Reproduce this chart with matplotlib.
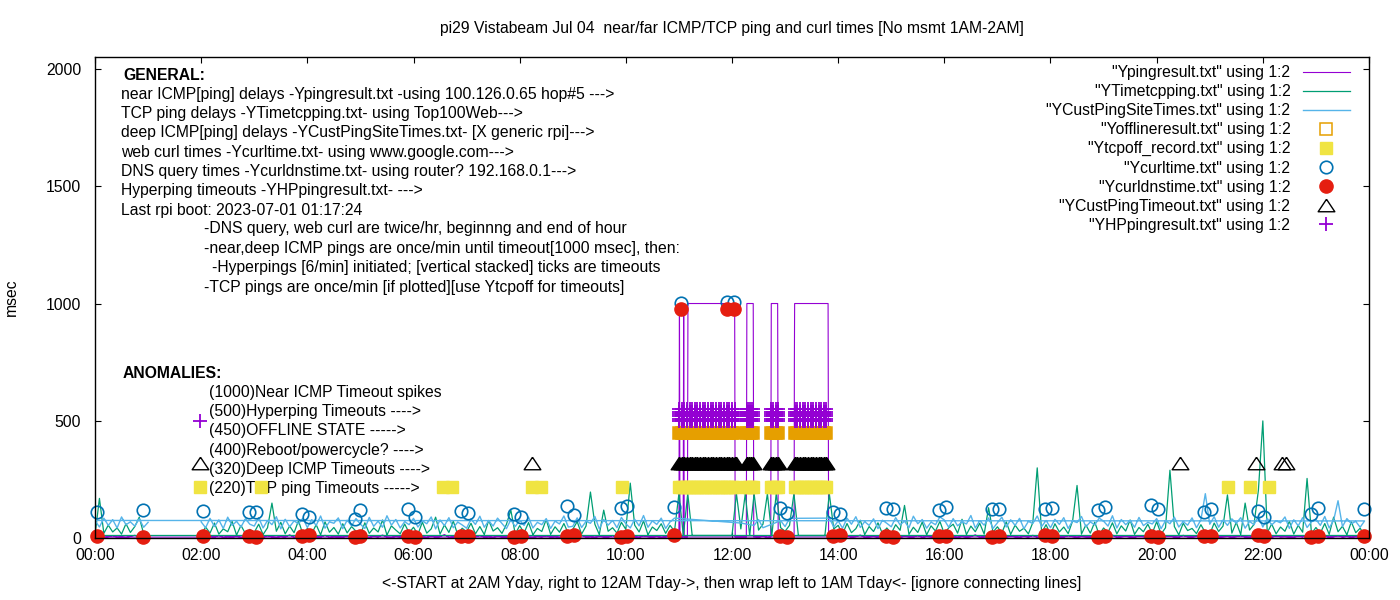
import matplotlib
matplotlib.use("Agg")
import matplotlib.pyplot as plt

plt.rcParams['font.family'] = ['Liberation Sans', 'DejaVu Sans']
plt.rcParams['font.size'] = 11.3

# ---------------------------------------------------------------- data
# logging runs 2AM yesterday -> midnight, then wraps to 0..1AM today.
# per-minute series at 5 minute steps, one row per hour
hour_order = list(range(2, 24)) + [0]

# near ICMP ping (msec), None = covered by the timeout spikes below
ping_rows = [
    [6, 4, 8, 5, 12, 4, 7, 5, 9, 4, 6, 10],
    [5, 7, 4, 11, 6, 4, 8, 5, 15, 4, 7, 5],
    [4, 9, 6, 5, 13, 4, 7, 6, 5, 10, 4, 8],
    [7, 5, 4, 9, 6, 14, 5, 4, 8, 6, 5, 11],
    [5, 8, 6, 4, 10, 5, 7, 16, 4, 6, 9, 5],
    [8, 4, 6, 12, 5, 7, 4, 9, 6, 5, 13, 4],
    [6, 10, 5, 4, 8, 6, 11, 5, 7, 4, 6, 9],
    [4, 6, 13, 5, 7, 4, 9, 6, 5, 12, 4, 7],
    [9, 5, 6, 4, 11, 7, 5, 8, 4, 6, 10, 5],
    [None] * 12,
    [None, None, 6, 5, None, 7, 5, 9, 4, None, None, 6],
    [5, 8, 4, None, None, None, None, None, None, None, 7, 5],
    [6, 4, 10, 5, 7, 14, 4, 6, 8, 5, 11, 4],
    [7, 5, 4, 9, 6, 5, 12, 4, 8, 6, 4, 10],
    [5, 11, 6, 4, 8, 5, 7, 15, 4, 6, 9, 5],
    [4, 7, 5, 10, 6, 4, 9, 5, 13, 4, 6, 8],
    [9, 4, 6, 5, 12, 7, 4, 8, 6, 5, 10, 4],
    [5, 8, 14, 4, 6, 9, 5, 4, 11, 7, 5, 6],
    [6, 4, 7, 10, 5, 4, 13, 6, 5, 8, 4, 9],
    [4, 10, 5, 6, 8, 4, 7, 12, 5, 4, 9, 6],
    [8, 5, 4, 11, 6, 7, 5, 4, 10, 6, 14, 5],
    [5, 7, 9, 4, 6, 12, 5, 8, 4, 7, 5, 6],
    [5, 9, 4, 7, 11, 5, 6, 4, 8, 13, 5, 6],
]
ping_1am = 5
# near ICMP timeout spikes (1000 msec)
ping_box_t = [11.00, 11.01, 11.02, 11.08, 11.09, 11.10, 11.16, 11.17, 12.05, 12.06,
              12.27, 12.28, 12.40, 12.41, 12.73, 12.74, 12.86, 12.87,
              13.17, 13.175, 13.18, 13.81, 13.82]
ping_box_v = [6, 1000, 6, 6, 1000, 6, 6, 1000, 1000, 6,
              6, 1000, 1000, 6, 6, 1000, 1000, 6,
              6, 750, 1000, 1000, 6]

# TCP ping (msec)
tcp_rows = [
    [15, 48, 22, 65, 18, 40, 28, 72, 14, 55, 20, 38],
    [25, 60, 16, 45, 150, 30, 68, 19, 52, 24, 75, 17],
    [42, 20, 58, 15, 70, 26, 46, 18, 62, 23, 50, 30],
    [16, 66, 21, 44, 27, 78, 14, 53, 35, 19, 61, 24],
    [47, 17, 69, 22, 40, 90, 18, 57, 25, 73, 15, 43],
    [28, 64, 19, 50, 16, 76, 31, 45, 21, 59, 120, 18],
    [54, 23, 67, 15, 42, 29, 80, 17, 49, 26, 63, 20],
    [38, 71, 18, 52, 197, 60, 16, 120, 30, 45, 22, 68],
    [38, 235, 56, 27, 74, 15, 48, 33, 62, 21, 55, 30],
    [190, 12, 190, 12, 12, 12, 12, 12, 12, 12, 12, 12],
    [12, 190, 40, 190, 12, 190, 35, 60, 190, 12, 190, 45],
    [30, 55, 190, 12, 12, 12, 12, 12, 12, 12, 190, 40],
    [55, 18, 63, 24, 41, 77, 16, 50, 29, 66, 20, 44],
    [21, 58, 34, 140, 17, 47, 25, 69, 15, 53, 31, 72],
    [19, 45, 60, 22, 81, 16, 52, 28, 64, 18, 130, 26],
    [49, 23, 70, 17, 56, 30, 43, 19, 67, 300, 24, 58],
    [16, 62, 27, 48, 20, 74, 225, 18, 57, 22, 69, 15],
    [44, 25, 66, 19, 53, 31, 78, 17, 46, 28, 60, 21],
    [71, 18, 45, 290, 50, 15, 64, 33, 42, 20, 58, 24],
    [17, 65, 29, 52, 185, 22, 68, 16, 150, 35, 59, 205],
    [500, 24, 61, 19, 48, 30, 72, 18, 55, 26, 255, 20],
    [46, 22, 63, 17, 90, 28, 51, 15, 70, 24, 43, 12],
    [12, 170, 21, 56, 27, 44, 18, 62, 25, 50, 90, 19],
]
tcp_1am = 12

# deep ICMP ping site times (msec), None = deep ping timed out
cust_rows = [
    [70, 45, 85, 50, 78, 42, 90, 55, 72, 48, 83, 60],
    [52, 88, 44, 76, 58, 92, 40, 81, 49, 74, 62, 86],
    [46, 79, 55, 95, 43, 70, 64, 87, 41, 77, 53, 84],
    [60, 42, 89, 51, 73, 47, 96, 56, 80, 44, 71, 58],
    [85, 48, 74, 62, 91, 40, 78, 54, 88, 45, 69, 57],
    [43, 82, 59, 94, 47, 75, 52, 86, 63, 41, 79, 50],
    [77, 55, 90, 44, 68, 58, 84, 42, 73, 61, 95, 48],
    [51, 87, 46, 72, 64, 93, 40, 80, 56, 76, 45, 89],
    [62, 44, 81, 53, 97, 47, 74, 59, 86, 42, 70, 86],
    [None] * 12,
    [None, None, 65, None, None, 55, 80, 45, None, None, None, 75],
    [50, 85, None, None, None, None, None, None, None, None, 86, 48],
    [74, 43, 86, 60, 92, 46, 71, 55, 83, 41, 77, 64],
    [49, 88, 57, 73, 45, 94, 62, 80, 43, 69, 58, 91],
    [78, 47, 84, 53, 70, 61, 97, 44, 75, 56, 87, 42],
    [66, 90, 48, 79, 55, 85, 41, 72, 63, 95, 50, 76],
    [45, 81, 59, 88, 42, 74, 67, 93, 49, 70, 57, 86],
    [73, 52, 96, 44, 80, 58, 76, 47, 89, 54, 68, 61],
    [84, 41, 75, 62, 90, 48, 71, 56, 87, 45, 79, 190],
    [60, 92, 47, 78, 55, 83, 64, 88, 43, 72, 58, 94],
    [48, 85, 57, 74, 66, 91, 42, 79, 53, 88, 46, 70],
    [81, 55, 93, 44, 76, 160, 50, 84, 62, 72, 47, 74],
    [76, 48, 86, 55, 79, 44, 91, 58, 70, 52, 83, 47],
]
cust_1am = 68

# curl + dns, twice an hour
curl_t = [2.03, 2.9, 3.03, 3.9, 4.03, 4.9, 5.0, 5.9, 6.03, 6.9, 7.03, 7.9, 8.03,
          8.9, 9.03, 9.9, 10.03, 10.9, 11.03, 11.9, 12.03, 12.9, 13.03, 13.9,
          14.03, 14.9, 15.03, 15.9, 16.03, 16.9, 17.03, 17.9, 18.03, 18.9, 19.03,
          19.9, 20.03, 20.9, 21.03, 21.9, 22.03, 22.9, 23.03, 23.9, 0.03, 0.9]
curl_v = [115, 112, 112, 103, 90, 82, 120, 125, 91, 116, 107, 104, 91,
          138, 99, 128, 138, 132, 1003, 1005, 1005, 129, 107, 111,
          103, 129, 125, 120, 132, 125, 125, 123, 127, 120, 132,
          140, 125, 112, 125, 116, 91, 104, 129, 125, 112, 120]
dns_t = curl_t
dns_v = [8, 10, 6, 9, 12, 7, 10, 8, 6, 11, 9, 7, 10,
         8, 12, 6, 9, 14, 975, 975, 975, 10, 7, 9,
         12, 8, 6, 11, 9, 7, 10, 13, 8, 6, 9,
         11, 7, 10, 8, 12, 9, 6, 10, 8, 9, 7]

# timeout / offline minutes during the 11AM-2PM outage
outage_t = [11.00, 11.05, 11.10, 11.15, 11.20, 11.25, 11.30, 11.35, 11.40, 11.45,
            11.50, 11.55, 11.60, 11.65, 11.70, 11.75, 11.80, 11.85, 11.90, 11.95,
            12.00, 12.05,
            12.28, 12.32, 12.36, 12.40,
            12.74, 12.78, 12.82, 12.86,
            13.18, 13.23, 13.28, 13.33, 13.38, 13.43, 13.48, 13.53, 13.58, 13.63,
            13.68, 13.73, 13.78]
offline_level = 450
tcpoff_extra_t = [1.98, 3.12, 6.55, 6.72, 8.23, 8.40, 9.93, 21.34, 21.75, 22.11]
tcpoff_level = 220
deepto_extra_t = [1.98, 8.23, 20.44, 21.88, 22.36, 22.44, 12.07]
deepto_level = 320
hp_extra_t = [1.98]
hp_levels = [500, 510, 520, 530, 540, 550]

xtick_pos = list(range(0, 25, 2))
xtick_labels = ['00:00', '02:00', '04:00', '06:00', '08:00', '10:00', '12:00',
                '14:00', '16:00', '18:00', '20:00', '22:00', '00:00']
ytick_pos = [0, 500, 1000, 1500, 2000]

general_lines = [
    "near ICMP[ping] delays -Ypingresult.txt -using 100.126.0.65 hop#5 --->",
    "TCP ping delays -YTimetcpping.txt- using Top100Web--->",
    "deep ICMP[ping] delays -YCustPingSiteTimes.txt- [X generic rpi]--->",
    "web curl times -Ycurltime.txt- using www.google.com--->",
    "DNS query times -Ycurldnstime.txt- using router? 192.168.0.1--->",
    "Hyperping timeouts -YHPpingresult.txt- --->",
    "Last rpi boot: 2023-07-01 01:17:24",
]
note_lines = [
    "-DNS query, web curl are twice/hr, beginnng and end of hour",
    "-near,deep ICMP pings are once/min until timeout[1000 msec], then:",
    "  -Hyperpings [6/min] initiated; [vertical stacked] ticks are timeouts",
    "-TCP pings are once/min [if plotted][use Ytcpoff for timeouts]",
]
anomaly_lines = [
    "(1000)Near ICMP Timeout spikes",
    "(500)Hyperping Timeouts ---->",
    "(450)OFFLINE STATE ----->",
    "(400)Reboot/powercycle? ---->",
    "(320)Deep ICMP Timeouts ---->",
    "(220)TCP ping Timeouts ----->",
]


def flatten(rows, last):
    return [v for row in rows for v in row] + [last]


def wrap_key(t):
    # 0..1AM readings come after midnight in the log
    return t + 24 if t < 1.5 else t


def ordered(ts, vs):
    pts = [(t, v) for t, v in zip(ts, vs) if v is not None]
    pts.sort(key=lambda p: wrap_key(p[0]))
    return [p[0] for p in pts], [p[1] for p in pts]


grid_t = [h + i / 12 for h in hour_order for i in range(12)] + [1.0]
ping_v = flatten(ping_rows, ping_1am)
tcp_v = flatten(tcp_rows, tcp_1am)
cust_v = flatten(cust_rows, cust_1am)

# ---------------------------------------------------------------- plot
W, H = 1400, 600
fig = plt.figure(figsize=(W / 100, H / 100), dpi=100)
ax = fig.add_axes([95 / W, 1 - 538.3 / H, (1369 - 95) / W, (538.3 - 57) / H])

ax.plot(*ordered(grid_t + ping_box_t, ping_v + ping_box_v), color='#9400d3', lw=0.8,
        label='"Ypingresult.txt" using 1:2')
ax.plot(*ordered(grid_t, tcp_v), color='#009e73', lw=0.9,
        label='"YTimetcpping.txt" using 1:2')
ax.plot(*ordered(grid_t, cust_v), color='#56b4e9', lw=1.0,
        label='"YCustPingSiteTimes.txt" using 1:2')

# offline: open squares; the once-a-minute outage run overlaps into a solid band
ax.plot(outage_t, [offline_level] * len(outage_t), ls='none', marker='s', ms=9,
        color='#e69f00', mec='#e69f00', mew=1.1)
ax.plot([], [], ls='none', marker='s', ms=9, mfc='none', mec='#e69f00', mew=1.1,
        label='"Yofflineresult.txt" using 1:2')

tcpoff_t = tcpoff_extra_t + outage_t
ax.plot(tcpoff_t, [tcpoff_level] * len(tcpoff_t), ls='none', marker='s', ms=9,
        color='#f0e442', mec='#f0e442', label='"Ytcpoff_record.txt" using 1:2')
ax.plot(curl_t, curl_v, ls='none', marker='o', ms=9, mfc='none', mec='#0072b2',
        mew=1.2, clip_on=False, label='"Ycurltime.txt" using 1:2')
ax.plot(dns_t, dns_v, ls='none', marker='o', ms=9.5, color='#e51e10',
        clip_on=False, label='"Ycurldnstime.txt" using 1:2')

tri = [(0, 0.75), (-1, -0.75), (1, -0.75), (0, 0.75)]
ax.plot(outage_t, [deepto_level] * len(outage_t), ls='none', marker=tri, ms=12,
        color='black', mec='black', mew=1.0)
ax.plot(deepto_extra_t, [deepto_level] * len(deepto_extra_t), ls='none', marker=tri,
        ms=12, mfc='none', mec='black', mew=1.0,
        label='"YCustPingTimeout.txt" using 1:2')

hp_x = hp_extra_t + [t for t in outage_t for lv in hp_levels]
hp_y = [hp_levels[0]] * len(hp_extra_t) + [lv for t in outage_t for lv in hp_levels]
ax.plot(hp_x, hp_y, ls='none', marker='+', ms=10, color='#9400d3', mew=1.3,
        label='"YHPpingresult.txt" using 1:2')

ax.set_xlim(0, 24)
ax.set_ylim(0, 2050)
ax.set_xticks(xtick_pos, xtick_labels)
ax.set_yticks(ytick_pos)
ax.tick_params(direction='in', top=True, right=True, length=4.5, width=0.8)
ax.tick_params(axis='x', pad=7)
ax.tick_params(axis='y', pad=10)
for s in ax.spines.values():
    s.set_linewidth(1.0)

ax.set_title("pi29 Vistabeam Jul 04  near/far ICMP/TCP ping and curl times "
             "[No msmt 1AM-2AM]", pad=17, fontsize=11.3)
ax.set_xlabel("<-START at 2AM Yday, right to 12AM Tday->, then wrap left to "
              "1AM Tday<- [ignore connecting lines]", labelpad=9.5)
ax.set_ylabel("msec", labelpad=19)

ax.legend(loc='upper right', bbox_to_anchor=(1350 / W, 1 - 65 / H),
          bbox_transform=fig.transFigure, frameon=False, markerfirst=False,
          handlelength=3.0, handletextpad=0.8, labelspacing=0.26,
          borderpad=0, borderaxespad=0, numpoints=1)


def label(px, py, s, **kw):
    ax.text(px / W, 1 - py / H, s, transform=fig.transFigure, va='center',
            ha='left', zorder=1, **kw)


label(123, 75, "GENERAL:", fontweight='bold')
for i, s in enumerate(general_lines):
    label(121, 94 + i * 19.4, s)
for i, s in enumerate(note_lines):
    label(212 if s.startswith("  ") else 204, 229 + i * 19.4, s.strip())
label(123, 373, "ANOMALIES:", fontweight='bold')
for i, s in enumerate(anomaly_lines):
    label(209, 392 + i * 19.4, s)

fig.savefig("out.png", dpi=100)
